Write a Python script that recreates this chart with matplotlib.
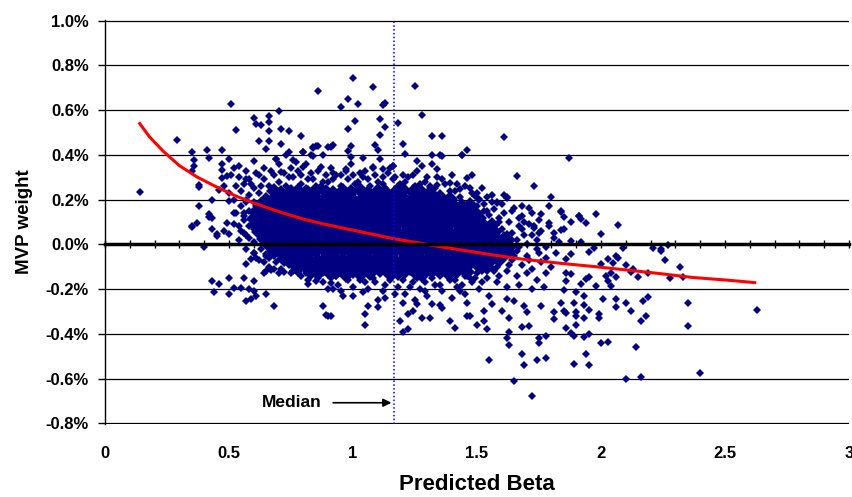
import matplotlib.pyplot as plt
import numpy as np
from matplotlib.ticker import FuncFormatter, MultipleLocator

plt.rcParams['font.family'] = ['Liberation Sans', 'DejaVu Sans']
plt.rcParams['font.weight'] = 'bold'

# ---- data: predicted beta vs MVP weight (%) ----
# dense core of the cloud (read as a packed band of points)
core_beta = [
    0.68,0.71,0.75,0.78,0.82,0.85,0.89,0.92,0.96,0.99,1.03,1.06,1.10,1.13,1.17,1.20,1.24,1.27,1.31,
    0.65,0.69,0.72,0.76,0.79,0.83,0.86,0.90,0.93,0.97,1.00,1.04,1.07,1.11,1.14,1.18,1.21,1.25,1.28,1.32,1.35,1.39,
    0.63,0.67,0.70,0.74,0.77,0.81,0.84,0.88,0.91,0.95,0.98,1.02,1.05,1.09,1.12,1.16,1.19,1.23,1.26,1.30,1.33,1.37,1.40,1.44,1.47,
    0.61,0.65,0.68,0.72,0.75,0.79,0.82,0.86,0.89,0.93,0.96,1.00,1.03,1.07,1.10,1.14,1.17,1.21,1.24,1.28,1.31,1.35,1.38,1.42,1.45,1.49,
    0.60,0.63,0.67,0.70,0.74,0.77,0.81,0.84,0.88,0.91,0.95,0.98,1.02,1.05,1.09,1.12,1.16,1.19,1.23,1.26,1.30,1.33,1.37,1.40,1.44,1.47,1.51,
    0.61,0.65,0.68,0.72,0.75,0.79,0.82,0.86,0.89,0.93,0.96,1.00,1.03,1.07,1.10,1.14,1.17,1.21,1.24,1.28,1.31,1.35,1.38,1.42,1.45,1.49,1.52,1.56,
    0.62,0.66,0.69,0.73,0.76,0.80,0.83,0.87,0.90,0.94,0.97,1.01,1.04,1.08,1.11,1.15,1.18,1.22,1.25,1.29,1.32,1.36,1.39,1.43,1.46,1.50,1.53,1.57,
    0.64,0.67,0.71,0.74,0.78,0.81,0.85,0.88,0.92,0.95,0.99,1.02,1.06,1.09,1.13,1.16,1.20,1.23,1.27,1.30,1.34,1.37,1.41,1.44,1.48,1.51,1.55,1.58,1.62,
    0.66,0.69,0.73,0.76,0.80,0.83,0.87,0.90,0.94,0.97,1.01,1.04,1.08,1.11,1.15,1.18,1.22,1.25,1.29,1.32,1.36,1.39,1.43,1.46,1.50,1.53,1.57,1.60,1.63,
    0.68,0.71,0.75,0.78,0.82,0.85,0.89,0.92,0.96,0.99,1.03,1.06,1.10,1.13,1.17,1.20,1.24,1.27,1.31,1.34,1.38,1.41,1.45,1.48,1.52,1.55,1.59,1.62,
    0.72,0.75,0.79,0.82,0.86,0.89,0.93,0.96,1.00,1.03,1.07,1.10,1.14,1.17,1.21,1.24,1.28,1.31,1.35,1.38,1.42,1.45,1.49,1.52,1.56,1.59,
    0.77,0.81,0.84,0.88,0.91,0.95,0.98,1.02,1.05,1.09,1.12,1.16,1.19,1.23,1.26,1.30,1.33,1.37,1.40,1.44,1.47,1.51,1.54,
    0.83,0.86,0.90,0.93,0.97,1.00,1.04,1.07,1.11,1.14,1.18,1.21,1.25,1.28,1.32,1.35,1.39,1.42,1.46,
]
core_weight = [
    0.24,0.23,0.235,0.24,0.23,0.245,0.235,0.23,0.24,0.235,0.245,0.23,0.24,0.235,0.23,0.245,0.235,0.24,0.23,
    0.20,0.21,0.205,0.20,0.215,0.205,0.20,0.21,0.205,0.215,0.20,0.205,0.21,0.20,0.215,0.205,0.20,0.21,0.205,0.20,0.21,0.205,
    0.175,0.17,0.18,0.175,0.17,0.185,0.175,0.17,0.18,0.175,0.165,0.18,0.175,0.17,0.18,0.175,0.185,0.17,0.175,0.18,0.17,0.175,0.18,0.17,0.175,
    0.145,0.14,0.15,0.145,0.135,0.15,0.145,0.14,0.155,0.145,0.14,0.15,0.145,0.135,0.15,0.145,0.14,0.15,0.145,0.14,0.155,0.145,0.14,0.15,0.145,0.14,
    0.115,0.11,0.12,0.115,0.105,0.12,0.115,0.11,0.125,0.115,0.11,0.12,0.115,0.105,0.12,0.115,0.11,0.12,0.115,0.11,0.125,0.115,0.11,0.12,0.115,0.11,0.12,
    0.085,0.08,0.09,0.085,0.075,0.09,0.085,0.08,0.095,0.085,0.08,0.09,0.085,0.075,0.09,0.085,0.08,0.09,0.085,0.08,0.095,0.085,0.08,0.09,0.085,0.08,0.09,0.085,
    0.055,0.05,0.06,0.055,0.045,0.06,0.055,0.05,0.065,0.055,0.05,0.06,0.055,0.045,0.06,0.055,0.05,0.06,0.055,0.05,0.065,0.055,0.05,0.06,0.055,0.05,0.06,0.055,
    0.025,0.02,0.03,0.025,0.015,0.03,0.025,0.02,0.035,0.025,0.02,0.03,0.025,0.015,0.03,0.025,0.02,0.03,0.025,0.02,0.035,0.025,0.02,0.03,0.025,0.02,0.03,0.025,0.02,
    -0.005,-0.01,0.0,-0.005,-0.015,0.0,-0.005,-0.01,0.005,-0.005,-0.01,0.0,-0.005,-0.015,0.0,-0.005,-0.01,0.0,-0.005,-0.01,0.005,-0.005,-0.01,0.0,-0.005,-0.01,0.0,-0.005,-0.01,
    -0.035,-0.04,-0.03,-0.035,-0.045,-0.03,-0.035,-0.04,-0.025,-0.035,-0.04,-0.03,-0.035,-0.045,-0.03,-0.035,-0.04,-0.03,-0.035,-0.04,-0.025,-0.035,-0.04,-0.03,-0.035,-0.04,-0.03,-0.035,
    -0.065,-0.07,-0.06,-0.065,-0.075,-0.06,-0.065,-0.07,-0.055,-0.065,-0.07,-0.06,-0.065,-0.075,-0.06,-0.065,-0.07,-0.06,-0.065,-0.07,-0.055,-0.065,-0.07,-0.06,-0.065,-0.07,
    -0.095,-0.1,-0.09,-0.095,-0.105,-0.09,-0.095,-0.1,-0.085,-0.095,-0.1,-0.09,-0.095,-0.105,-0.09,-0.095,-0.1,-0.09,-0.095,-0.1,-0.085,-0.095,-0.1,
    -0.125,-0.13,-0.12,-0.125,-0.135,-0.12,-0.125,-0.13,-0.115,-0.125,-0.13,-0.12,-0.125,-0.135,-0.12,-0.125,-0.13,-0.12,-0.125,
]

# edge of the core (beta, weight %)
fringe = [
    (0.56,0.27),(0.60,0.25),(0.64,0.29),(0.66,0.26),(0.70,0.28),(0.73,0.26),(0.76,0.30),(0.79,0.27),(0.81,0.25),
    (0.84,0.29),(0.87,0.26),(0.90,0.28),(0.93,0.31),(0.95,0.26),(0.98,0.29),(1.01,0.27),(1.04,0.30),(1.07,0.26),
    (1.10,0.28),(1.13,0.25),(1.16,0.29),(1.19,0.27),(1.22,0.30),(1.25,0.26),(1.29,0.28),(1.33,0.25),(1.37,0.27),
    (1.41,0.24),(1.45,0.26),(1.48,0.23),(1.52,0.25),(1.56,0.22),(0.72,0.32),(0.78,0.33),(0.83,0.32),(0.89,0.31),
    (0.97,0.33),(1.03,0.32),(1.08,0.34),(1.14,0.32),(1.20,0.31),(1.26,0.33),(1.34,0.30),(0.62,0.31),(0.58,0.29),
    (1.43,0.21),(1.51,0.20),(1.58,0.19),(1.62,0.21),
    (1.53,0.18),(1.57,0.16),(1.60,0.18),(1.64,0.15),(1.68,0.17),(1.72,0.14),(1.55,0.13),(1.59,0.12),(1.63,0.10),
    (1.67,0.12),(1.71,0.09),(1.75,0.11),(1.79,0.08),(1.60,0.07),(1.64,0.05),(1.68,0.07),(1.72,0.04),(1.76,0.06),
    (1.81,0.03),(1.66,0.02),(1.70,0.00),(1.74,0.02),(1.78,-0.01),(1.83,0.01),(1.66,-0.03),(1.70,-0.05),(1.74,-0.02),
    (1.78,-0.06),(1.82,-0.04),(1.64,-0.07),(1.68,-0.09),(1.72,-0.11),(1.76,-0.08),(1.80,-0.10),(1.58,-0.10),
    (1.62,-0.12),(1.66,-0.14),(1.70,-0.13),(1.74,-0.16),(1.78,-0.13),(1.50,-0.13),(1.54,-0.15),(1.58,-0.17),
    (1.62,-0.19),(1.67,-0.18),(1.72,-0.20),(1.77,-0.19),
    (0.76,-0.12),(0.79,-0.14),(0.82,-0.16),(0.85,-0.13),(0.88,-0.17),(0.91,-0.15),(0.94,-0.18),(0.97,-0.15),
    (1.00,-0.19),(1.03,-0.16),(1.06,-0.20),(1.09,-0.17),(1.12,-0.21),(1.15,-0.16),(1.18,-0.19),(1.21,-0.22),
    (1.24,-0.17),(1.27,-0.20),(1.30,-0.23),(1.33,-0.18),(1.36,-0.21),(1.39,-0.16),(1.42,-0.19),(1.45,-0.22),
    (1.48,-0.17),(1.51,-0.20),(1.55,-0.23),(1.00,-0.23),(1.10,-0.25),(1.25,-0.25),(1.40,-0.24),(1.46,-0.26),
    (1.35,-0.27),(0.95,-0.21),(0.90,-0.20),
    (0.52,0.20),(0.55,0.17),(0.58,0.22),(0.53,0.14),(0.56,0.11),(0.58,0.15),(0.52,0.09),(0.55,0.06),(0.58,0.08),
    (0.54,0.02),(0.57,0.04),(0.60,0.01),(0.57,-0.02),(0.60,-0.04),(0.63,-0.02),(0.62,-0.07),(0.65,-0.05),
    (0.66,-0.10),(0.69,-0.08),(0.71,-0.11),(0.74,-0.09),(0.60,0.19),(0.62,0.23),
]

# ragged rim of the core
rim = [
    (0.64,0.34),(0.68,0.31),(0.70,0.36),(0.74,0.30),(0.75,0.34),(0.79,0.31),(0.81,0.36),(0.82,0.29),(0.86,0.33),
    (0.88,0.28),(0.91,0.34),(0.92,0.29),(0.95,0.31),(0.99,0.36),(1.00,0.31),(1.02,0.28),(1.05,0.33),(1.06,0.29),
    (1.09,0.31),(1.12,0.27),(1.15,0.34),(1.17,0.30),(1.18,0.26),(1.21,0.28),(1.24,0.31),(1.27,0.27),(1.30,0.30),
    (1.31,0.26),(1.36,0.29),(1.39,0.24),(1.42,0.27),(1.47,0.25),(1.50,0.23),(1.54,0.21),(1.40,0.31),(1.28,0.35),
    (0.69,0.38),(0.73,0.40),(0.57,0.33),(0.54,0.30),
    (1.50,0.17),(1.53,0.15),(1.52,0.10),(1.55,0.08),(1.58,0.05),(1.56,0.02),(1.59,0.10),(1.61,-0.01),(1.64,0.02),
    (1.61,0.04),(1.65,-0.05),(1.63,-0.09),(1.60,-0.07),(1.57,-0.12),(1.59,-0.14),(1.55,-0.10),(1.52,-0.12),
    (1.49,-0.15),(1.45,-0.14),(1.69,0.04),(1.67,-0.01),(1.71,-0.07),(1.75,-0.04),(1.69,0.10),(1.73,0.08),(1.56,0.19),
    (0.79,-0.11),(0.82,-0.13),(0.86,-0.15),(0.93,-0.14),(0.98,-0.16),(1.02,-0.14),(1.05,-0.17),(1.08,-0.15),
    (1.13,-0.18),(1.16,-0.14),(1.20,-0.16),(1.23,-0.19),(1.26,-0.15),(1.29,-0.17),(1.32,-0.15),(1.35,-0.18),
    (1.38,-0.14),(1.41,-0.16),(1.44,-0.18),(1.47,-0.15),(1.17,-0.22),(1.29,-0.21),(1.43,-0.21),(1.52,-0.17),
    (1.13,-0.24),
    (0.59,0.27),(0.63,0.26),(0.57,0.19),(0.59,0.12),(0.56,0.14),(0.58,0.03),(0.61,-0.06),(0.64,-0.08),(0.68,-0.11),
    (0.70,-0.13),(0.75,-0.13),
]

upper_left = [
    (0.14,0.232),(0.29,0.468),(0.35,0.413),(0.41,0.423),(0.42,0.386),(0.47,0.423),(0.50,0.382),(0.36,0.379),
    (0.36,0.349),(0.35,0.327),(0.38,0.267),(0.38,0.257),(0.43,0.200),(0.38,0.171),(0.42,0.134),(0.42,0.123),
    (0.43,0.117),(0.35,0.082),(0.37,0.097),(0.35,0.077),(0.45,0.045),(0.43,0.067),(0.40,-0.012),(0.51,0.628),
    (0.53,0.511),(0.47,0.361),(0.47,0.334),(0.54,0.349),(0.52,0.342),(0.47,0.297),(0.49,0.304),(0.51,0.312),
    (0.57,0.294),(0.48,0.260),(0.46,0.245),(0.53,0.260),(0.50,0.230),(0.55,0.237),(0.57,0.200),(0.61,0.171),
    (0.50,0.193),(0.52,0.141),(0.56,0.126),(0.49,0.097),(0.54,0.082),(0.48,0.059),(0.50,0.045),(0.56,0.052),
    (0.60,0.067),(0.62,0.111),(0.45,0.037),
]

upper_mid = [
    (0.60,0.566),(0.61,0.540),(0.63,0.535),(0.66,0.573),(0.66,0.546),(0.66,0.509),(0.70,0.597),(0.71,0.517),
    (0.74,0.505),(0.79,0.486),(0.86,0.687),(0.65,0.428),(0.66,0.460),(0.71,0.449),(0.74,0.411),(0.80,0.411),
    (0.62,0.460),(0.69,0.382),(0.60,0.374),(0.61,0.319),(0.67,0.327),(0.71,0.324),(0.76,0.379),(0.77,0.367),
    (0.84,0.434),(0.85,0.441),(0.84,0.396),(0.87,0.346),(0.91,0.435),(0.80,0.346),(0.92,0.319),(0.86,0.438),
    (0.84,0.431),(0.90,0.435),(0.92,0.442),(0.80,0.413),(0.83,0.401),(0.88,0.401),
    (1.00,0.745),(1.08,0.702),(1.25,0.708),(0.98,0.650),(1.02,0.628),(0.95,0.616),(1.12,0.624),(1.13,0.634),
    (1.28,0.578),(1.01,0.552),(1.11,0.560),(1.18,0.542),(0.98,0.517),(1.13,0.523),(1.11,0.491),(1.32,0.484),
    (1.36,0.484),(1.61,0.478),(0.99,0.441),(0.98,0.419),(1.09,0.442),(1.10,0.423),(1.20,0.449),(1.21,0.404),
    (1.46,0.423),(1.44,0.400),(1.32,0.401),(1.36,0.393),(0.99,0.392),(1.04,0.386),(1.11,0.383),(1.26,0.374),
    (1.32,0.361),(1.34,0.337),(1.16,0.349),(1.08,0.344),(1.12,0.339),(1.12,0.300),(0.97,0.339),(1.66,0.307),
    (1.48,0.312),(1.46,0.297),(1.73,0.263),(1.31,0.255),(1.34,0.267),(1.39,0.275),(1.43,0.249),(1.16,0.352),
    (1.35,0.401),(1.44,0.398),
]

right_upper = [
    (1.61,0.220),(1.80,0.211),(1.79,0.171),(1.76,0.134),(1.79,0.097),(1.58,0.186),(1.54,0.148),(1.51,0.204),
    (1.49,0.215),(1.65,0.163),(1.68,0.126),(1.71,0.163),(1.61,0.141),(1.67,0.082),(1.73,0.074),(1.75,0.052),
    (1.57,0.074),(1.62,0.045),(1.81,0.052),(1.87,0.386),(1.98,0.134),(2.07,0.085),(2.00,0.048),(1.91,0.129),
    (1.92,0.114),(1.94,0.097),(1.85,0.122),(1.88,0.102),(1.84,0.064),(1.88,0.015),(1.92,0.010),(1.84,0.148),
    (1.62,0.208),(1.84,0.146),(1.91,0.126),(1.85,0.067),(1.97,-0.015),(2.24,-0.022),(2.27,-0.004),(2.21,-0.015),
    (2.09,-0.015),
]

lower_left = [
    (0.43,-0.163),(0.44,-0.211),(0.46,-0.178),(0.50,-0.151),(0.50,-0.223),(0.52,-0.193),(0.55,-0.193),(0.56,-0.151),
    (0.60,-0.163),(0.58,-0.200),(0.60,-0.208),(0.57,-0.253),(0.59,-0.245),(0.61,-0.230),(0.65,-0.223),(0.68,-0.275),
    (0.57,-0.089),(0.59,-0.067),(0.60,-0.037),(0.64,-0.126),(0.65,-0.119),(0.67,-0.114),(0.65,-0.045),(0.66,-0.059),
    (0.72,-0.122),(0.73,-0.067),(0.76,-0.097),(0.78,-0.126),(0.81,-0.126),(0.82,-0.089),(0.85,-0.163),(0.82,-0.178),
    (0.88,-0.275),(0.90,-0.319),(0.91,-0.319),(0.91,-0.171),(0.92,-0.200),(0.88,-0.126),(0.89,-0.316),(0.96,-0.230),
    (1.04,-0.212),
]

lower_mid = [
    (1.06,-0.275),(1.05,-0.312),(1.05,-0.361),(1.10,-0.282),(1.19,-0.342),(1.20,-0.391),(1.22,-0.379),(1.20,-0.260),
    (1.22,-0.312),(1.24,-0.297),(1.26,-0.267),(1.28,-0.330),(1.31,-0.330),(1.32,-0.267),(1.36,-0.285),(1.39,-0.344),
    (1.41,-0.374),(1.46,-0.319),(1.47,-0.319),(1.50,-0.361),(1.53,-0.342),(1.54,-0.379),(1.55,-0.515),(1.53,-0.297),
    (1.56,-0.267),(1.60,-0.297),(1.63,-0.331),(1.62,-0.419),(1.63,-0.450),(1.65,-0.609),(1.68,-0.490),(1.69,-0.539),
    (1.72,-0.676),(1.74,-0.515),(1.78,-0.508),(1.75,-0.419),(1.75,-0.442),(1.78,-0.411),(1.68,-0.371),(1.71,-0.367),
    (1.69,-0.275),(1.70,-0.304),(1.76,-0.275),(1.81,-0.304),(1.81,-0.334),(1.65,-0.253),(1.62,-0.245),(1.63,-0.391),
]

lower_right = [
    (2.63,-0.293),(2.40,-0.576),(2.35,-0.367),(2.35,-0.260),(2.32,-0.099),(2.33,-0.146),(2.28,-0.151),(2.26,-0.070),
    (2.24,-0.030),(2.19,-0.126),(2.19,-0.237),(2.18,-0.319),(2.17,-0.255),(2.16,-0.342),(2.16,-0.594),(2.10,-0.601),
    (2.14,-0.460),(2.12,-0.300),(2.10,-0.260),(2.15,-0.144),(2.13,-0.111),(2.12,-0.122),(2.10,-0.094),(2.06,-0.242),
    (2.06,-0.282),(2.01,-0.245),(2.03,-0.435),(2.00,-0.441),(1.99,-0.312),(1.99,-0.331),(1.95,-0.294),(1.95,-0.401),
    (1.93,-0.416),(1.94,-0.490),(1.95,-0.539),(1.89,-0.535),(1.89,-0.408),(1.86,-0.376),(1.88,-0.396),(1.90,-0.361),
    (1.93,-0.330),(1.90,-0.322),(1.90,-0.301),(1.93,-0.272),(1.86,-0.307),(1.85,-0.297),(1.84,-0.263),(1.89,-0.260),
    (1.93,-0.230),(1.90,-0.212),(1.85,-0.204),(1.98,-0.186),(2.04,-0.186),(2.03,-0.163),(2.02,-0.141),(2.06,-0.144),
    (2.04,-0.126),(1.94,-0.156),(1.95,-0.144),(1.92,-0.178),(1.86,-0.163),(1.88,-0.134),(1.86,-0.126),(1.86,-0.064),
    (1.88,-0.045),(1.95,-0.034),(2.00,-0.089),(2.03,-0.067),(2.05,-0.085),(2.07,-0.059),(2.06,-0.052),
]

# fitted curve
fit_beta = [0.14,0.18,0.235,0.30,0.37,0.44,0.53,0.60,0.67,0.73,0.80,0.87,0.95,1.08,1.16,1.30,1.35,
            1.55,1.69,1.84,1.97,2.10,2.24,2.37,2.51,2.62]
fit_weight = [0.54,0.48,0.416,0.352,0.302,0.262,0.215,0.185,0.158,0.136,0.113,0.094,0.075,0.045,0.026,0.0,-0.01,
              -0.045,-0.067,-0.085,-0.099,-0.114,-0.131,-0.148,-0.16,-0.171]

median_beta = 1.165
median_label_y = -0.708

yticks = [-0.8,-0.6,-0.4,-0.2,0.0,0.2,0.4,0.6,0.8,1.0]
xlabels = [0,0.5,1,1.5,2,2.5,3]

# ---- plot ----
navy = '#000080'
fig = plt.figure(figsize=(8.52, 4.97), dpi=100)
ax = fig.add_axes([105/852, 73/497, 744/852, 404/497])

ax.plot(core_beta, core_weight, 'D', ms=8.0, color=navy, mew=0, ls='none', zorder=2)
sparse = fringe + rim + upper_left + upper_mid + right_upper + lower_left + lower_mid + lower_right
sb, sw = zip(*sparse)
ax.plot(sb, sw, 'D', ms=4.4, color=navy, mew=0, ls='none', zorder=2)

ax.plot(fit_beta, fit_weight, color='#FF0000', lw=2.2, zorder=3)
ax.axvline(median_beta, color='#0000FF', lw=1.1, ls=(0, (1, 1.5)), zorder=4)
ax.annotate('Median', xy=(median_beta - 0.01, median_label_y), xytext=(0.875, median_label_y),
            ha='right', va='center', fontsize=12.5, fontweight='bold',
            arrowprops=dict(arrowstyle='-|>', color='black', lw=1.2, shrinkA=6, shrinkB=0,
                            mutation_scale=12))

ax.set_xlim(0, 3)
ax.set_ylim(-0.803, 1.003)
ax.set_yticks(yticks)
ax.yaxis.set_major_formatter(FuncFormatter(lambda v, p: f'{v:.1f}%'))
ax.yaxis.grid(True, color='black', lw=0.9)
ax.set_axisbelow(True)
ax.tick_params(axis='y', direction='out', length=5, width=1, pad=6.5, labelsize=12)

ax.spines['top'].set_visible(False)
ax.spines['right'].set_visible(False)
ax.spines['left'].set_linewidth(1.0)
ax.spines['bottom'].set_position(('data', 0))
ax.spines['bottom'].set_linewidth(2.5)
ax.spines['bottom'].set_zorder(5)
ax.xaxis.set_major_locator(MultipleLocator(0.1))
ax.tick_params(axis='x', direction='inout', length=6, width=1, labelbottom=False)

secax = ax.secondary_xaxis('bottom')
secax.set_xticks(xlabels)
secax.xaxis.set_major_formatter(FuncFormatter(lambda v, p: f'{v:g}'))
secax.tick_params(length=0, pad=16, labelsize=12)
secax.spines['bottom'].set_visible(False)
secax.set_xlabel('Predicted Beta', fontsize=16, fontweight='bold', labelpad=9)

ax.set_ylabel('MVP weight', fontsize=13.5, fontweight='bold', labelpad=9)

plt.savefig('out.png', dpi=100)
plt.close()
